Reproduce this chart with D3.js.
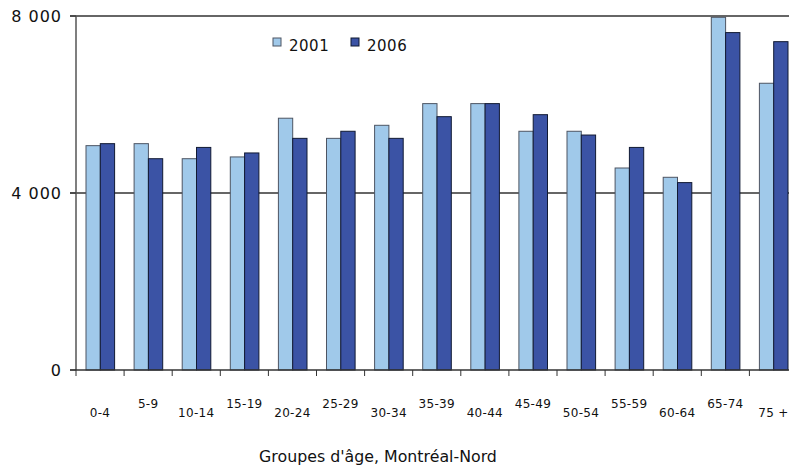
<!DOCTYPE html>
<html>
<head>
<meta charset="utf-8">
<script src="https://cdn.jsdelivr.net/npm/d3@7"></script>
<style>
  body { margin: 0; background: #fff; }
</style>
</head>
<body>
<svg width="789" height="465"></svg>
<script>
// age groups and counts
var groups = ["0-4", "5-9", "10-14", "15-19", "20-24", "25-29", "30-34", "35-39",
              "40-44", "45-49", "50-54", "55-59", "60-64", "65-74", "75 +"];
var years = ["2001", "2006"];
var v2001 = [5070, 5115, 4775, 4815, 5690, 5235, 5530, 6020, 6020, 5395, 5395, 4565, 4355, 7970, 6480];
var v2006 = [5115, 4775, 5030, 4905, 5235, 5395, 5235, 5725, 6020, 5770, 5310, 5030, 4235, 7625, 7420];
var yTicks = [0, 4000, 8000];

var colors = ["#a0c9ea", "#3b53a5"];
var strokes = ["#4d5563", "#111a33"];

var svg = d3.select("svg");

var x0 = d3.scaleBand()
  .domain(groups)
  .range([76, 797.5])
  .paddingInner(0)
  .paddingOuter(0);

var y = d3.scaleLinear()
  .domain([0, 8000])
  .range([370, 16]);

var data = groups.map(function(g, i) {
  return { group: g, values: [v2001[i], v2006[i]] };
});

// gridlines behind the bars
svg.selectAll(".grid")
  .data(yTicks.filter(function(d) { return d > 0; }))
  .enter()
  .append("line")
  .attr("x1", 70)
  .attr("x2", 789)
  .attr("y1", function(d) { return y(d); })
  .attr("y2", function(d) { return y(d); })
  .attr("stroke", "#333")
  .attr("stroke-width", 1.3);

// bars
var barW = 14.3;
var g = svg.selectAll(".grp")
  .data(data)
  .enter()
  .append("g")
  .attr("transform", function(d) { return "translate(" + (x0(d.group) + 10) + ",0)"; });

g.selectAll("rect")
  .data(function(d) { return d.values; })
  .enter()
  .append("rect")
  .attr("x", function(d, i) { return i * barW; })
  .attr("y", function(d) { return y(d); })
  .attr("width", barW)
  .attr("height", function(d) { return y(0) - y(d); })
  .attr("fill", function(d, i) { return colors[i]; })
  .attr("stroke", function(d, i) { return strokes[i]; })
  .attr("stroke-width", 1);

// y axis
svg.append("line")
  .attr("x1", 76).attr("x2", 76)
  .attr("y1", 16).attr("y2", 370)
  .attr("stroke", "#555").attr("stroke-width", 1.5);

svg.selectAll(".ytick")
  .data(yTicks)
  .enter()
  .append("line")
  .attr("x1", 70).attr("x2", 76)
  .attr("y1", function(d) { return y(d); })
  .attr("y2", function(d) { return y(d); })
  .attr("stroke", "#333");

svg.selectAll(".ylab")
  .data(yTicks)
  .enter()
  .append("text")
  .attr("x", 62)
  .attr("y", function(d) { return y(d) + 6; })
  .attr("text-anchor", "end")
  .attr("style", "font-family: 'DejaVu Sans'; font-size: 16px; letter-spacing: 1px; fill: #111")
  .text(function(d) { return d3.format(",")(d).replace(",", " "); });

// x axis
svg.append("line")
  .attr("x1", 70).attr("x2", 789)
  .attr("y1", 370).attr("y2", 370)
  .attr("stroke", "#333").attr("stroke-width", 1.5);

svg.selectAll(".xtick")
  .data(groups)
  .enter()
  .append("line")
  .attr("x1", function(d) { return x0(d); })
  .attr("x2", function(d) { return x0(d); })
  .attr("y1", 370).attr("y2", 376)
  .attr("stroke", "#333");

svg.selectAll(".xlab")
  .data(groups)
  .enter()
  .append("text")
  .attr("x", function(d) { return x0(d) + x0.bandwidth() / 2; })
  .attr("y", function(d, i) { return i % 2 === 0 ? 417 : 408; })
  .attr("text-anchor", "middle")
  .attr("style", "font-family: 'DejaVu Sans'; font-size: 12px; letter-spacing: 0.3px; fill: #111")
  .text(function(d) { return d; });

// legend
var leg = svg.selectAll(".leg")
  .data(years)
  .enter()
  .append("g")
  .attr("transform", function(d, i) { return "translate(" + (273 + i * 78) + ",38)"; });

leg.append("rect")
  .attr("width", 8).attr("height", 8)
  .attr("fill", function(d, i) { return colors[i]; })
  .attr("stroke", function(d, i) { return strokes[i]; });

leg.append("text")
  .attr("x", 16)
  .attr("y", 13)
  .attr("style", "font-family: 'DejaVu Sans'; font-size: 15px; letter-spacing: 0.5px; fill: #111")
  .text(function(d) { return d; });

// axis title
svg.append("text")
  .attr("x", 378)
  .attr("y", 462)
  .attr("text-anchor", "middle")
  .attr("style", "font-family: 'DejaVu Sans'; font-size: 15.8px; fill: #111")
  .text("Groupes d'âge, Montréal-Nord");
</script>
</body>
</html>
